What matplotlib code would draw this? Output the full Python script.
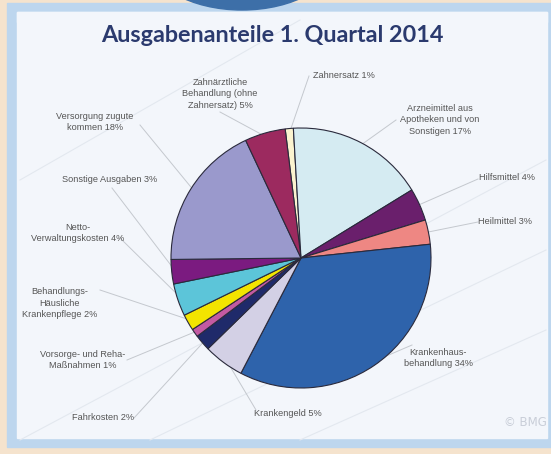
import matplotlib.pyplot as plt
from matplotlib.patches import Rectangle, Ellipse
import numpy as np

# Ausgabenanteile 1. Quartal 2014 (Prozent), im Uhrzeigersinn ab oben
labels = [
    'Zahnersatz 1%',
    'Arzneimittel aus\nApotheken und von\nSonstigen 17%',
    'Hilfsmittel 4%',
    'Heilmittel 3%',
    'Krankenhaus-\nbehandlung 34%',
    'Krankengeld 5%',
    'Fahrkosten 2%',
    'Vorsorge- und Reha-\nMaßnahmen 1%',
    'Behandlungs-\nHäusliche\nKrankenpflege 2%',
    'Netto-\nVerwaltungskosten 4%',
    'Sonstige Ausgaben 3%',
    'Versorgung zugute\nkommen 18%',
    'Zahnärztliche\nBehandlung (ohne\nZahnersatz) 5%',
]
shares = [1, 17, 4, 3, 34, 5, 2, 1, 2, 4, 3, 18, 5]
colors = ['#fbf3cf', '#d5ebf2', '#6a1f6c', '#ee8783', '#2e63ab', '#d3d0e5',
          '#1f2a6a', '#c35aa2', '#f3e400', '#5cc5d9', '#7b1b80', '#9a99cc', '#9c2a5f']

# Beschriftungen (Pixel, y nach unten) und Anfang der Führungslinie
label_pos = [(313, 75, 'left'), (440, 120, 'center'), (507, 178, 'center'),
             (505, 222, 'center'), (438, 358, 'center'), (288, 414, 'center'),
             (103, 418, 'center'), (83, 360, 'center'), (60, 303, 'center'),
             (78, 233, 'center'), (110, 180, 'center'), (95, 122, 'center'),
             (220, 94, 'center')]
line_start = [(309, 76), (396, 120), (478, 179), (478, 222), (412, 345),
              (256, 410), (134, 418), (127, 360), (100, 290), (120, 238),
              (112, 188), (140, 125), (220, 112)]

W, H = 551, 454
fig = plt.figure(figsize=(W / 100, H / 100), dpi=100)
fig.patch.set_facecolor('#f5e3cd')

# Hintergrund in Pixelkoordinaten
bg = fig.add_axes([0, 0, 1, 1])
bg.set_xlim(0, W)
bg.set_ylim(H, 0)
bg.axis('off')
bg.add_patch(Rectangle((7, 3), W - 7, 444, color='#bdd6ee', zorder=0))
bg.add_patch(Rectangle((17, 12), 530, 426, color='#f3f6fb', zorder=0))
bg.add_patch(Ellipse((242, -45), 190, 110, color='#3d6fa8', zorder=0.5))
bg.add_patch(Rectangle((17, 12), 530, 10, color='#f3f6fb', zorder=0.6))
for x0, y0, x1, y1 in [(20, 180, 300, 20), (20, 440, 546, 160),
                       (150, 440, 546, 250), (300, 440, 546, 330)]:
    bg.plot([x0, x1], [y0, y1], color='#e3e8ef', lw=0.8, zorder=0.7)

bg.text(272, 36, 'Ausgabenanteile 1. Quartal 2014', ha='center', va='center',
        fontsize=16.8, fontweight='bold', color='#2b3a6e', family='Lato')
bg.text(525, 422, '© BMG', ha='center', va='center', fontsize=8.5,
        color='#c9ced8', family='Liberation Sans Narrow')

# Tortendiagramm
cx, cy, r = 301, 258, 130
pie_ax = fig.add_axes([(cx - r) / W, (H - cy - r) / H, 2 * r / W, 2 * r / H])
wedges, _ = pie_ax.pie(shares, colors=colors, startangle=97, counterclock=False,
                       radius=1, wedgeprops=dict(edgecolor='#2a2a3c', linewidth=0.8))
pie_ax.set_xlim(-1, 1)
pie_ax.set_ylim(-1, 1)
pie_ax.axis('off')

for w, lab, (tx, ty, ha), (lx, ly) in zip(wedges, labels, label_pos, line_start):
    ang = np.deg2rad((w.theta1 + w.theta2) / 2)
    px = cx + 0.97 * r * np.cos(ang)
    py = cy - 0.97 * r * np.sin(ang)
    bg.plot([lx, px], [ly, py], color='#c4c8ce', lw=0.7, zorder=0.8)
    bg.text(tx, ty, lab, ha=ha, va='center', multialignment='center',
            fontsize=6.6, color='#555555', family='Liberation Sans',
            linespacing=1.35, zorder=2)

fig.savefig('out.png', dpi=100, facecolor=fig.get_facecolor())
